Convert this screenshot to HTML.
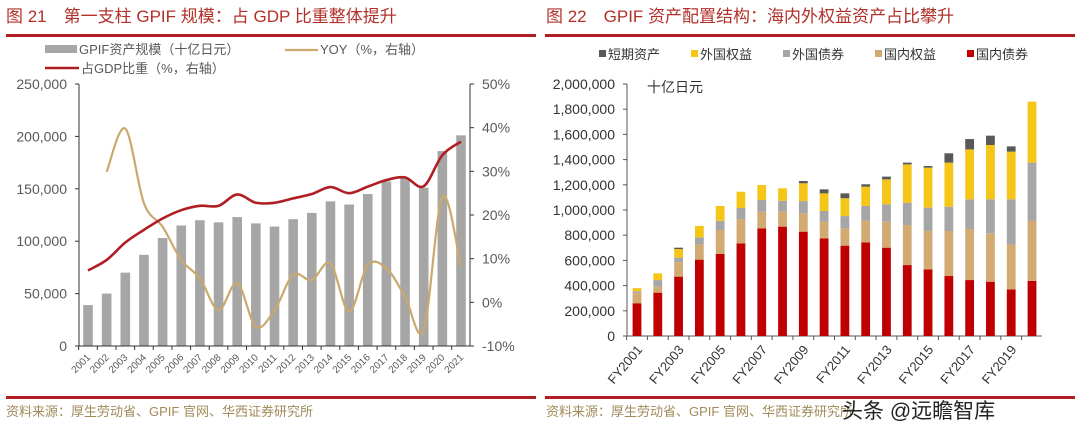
<!DOCTYPE html>
<html><head><meta charset="utf-8">
<style>
body{margin:0;background:#fff;width:1080px;height:436px;overflow:hidden;font-family:"Liberation Sans","Noto Sans CJK SC",sans-serif}
svg{display:block}
</style></head>
<body>
<svg id="s" width="1080" height="436">
<text x="6" y="22" font-size="17" fill="#b2302a" font-family="Liberation Sans,Noto Sans CJK SC,sans-serif">图 21　第一支柱 GPIF 规模：占 GDP 比重整体提升</text>
<text x="546" y="22" font-size="17" fill="#b2302a" font-family="Liberation Sans,Noto Sans CJK SC,sans-serif">图 22　GPIF 资产配置结构：海内外权益资产占比攀升</text>
<rect x="6" y="34" width="530" height="3" fill="#b01e23"/>
<rect x="545" y="34" width="530" height="3" fill="#b01e23"/>
<rect x="6" y="396" width="530" height="3" fill="#b01e23"/>
<rect x="545" y="396" width="530" height="3" fill="#b01e23"/>
<text x="6" y="416" font-size="13" fill="#a08a5a" font-family="Liberation Sans,Noto Sans CJK SC,sans-serif">资料来源：厚生劳动省、GPIF 官网、华西证券研究所</text>
<text x="546" y="416" font-size="13" fill="#a08a5a" font-family="Liberation Sans,Noto Sans CJK SC,sans-serif">资料来源：厚生劳动省、GPIF 官网、华西证券研究所</text>
<text x="842" y="418" font-size="21" fill="#222" font-family="Liberation Sans,Noto Sans CJK SC,sans-serif">头条 @远瞻智库</text>
<g id="L"></g><g id="R"></g>
</svg>
<script>
const years=["2001","2002","2003","2004","2005","2006","2007","2008","2009","2010","2011","2012","2013","2014","2015","2016","2017","2018","2019","2020","2021"];
const assets=[39000,50000,70000,87000,103000,115000,120000,118000,123000,117000,114000,121000,127000,138000,135000,145000,157000,160000,151000,186000,201000];
const gdpShare=[7.3,9.7,13.7,16.6,19.2,21.1,22.1,22.1,24.7,22.8,22.8,23.8,24.8,26.4,25.0,26.5,28.0,28.6,26.6,33.7,36.8];
const yoy=[null,29.9,39.8,22.7,17.3,9.7,5.5,-1.8,4.4,-5.6,-1.8,6.3,5.1,8.9,-2.1,8.5,7.8,1.3,-6.3,24.2,8.2];
const leftTicks=[0,50000,100000,150000,200000,250000];
const rightTicks=[-10,0,10,20,30,40,50];

const fyLabels=["FY2001","FY2002","FY2003","FY2004","FY2005","FY2006","FY2007","FY2008","FY2009","FY2010","FY2011","FY2012","FY2013","FY2014","FY2015","FY2016","FY2017","FY2018","FY2019","FY2020"];
const domBond=[260000,344000,471000,606000,651000,735000,854000,868000,828000,775000,717000,743000,701000,563000,529000,476000,444000,431000,370000,437000];
const domEq=[80000,48000,114000,121000,190000,193000,132000,118000,145000,132000,137000,172000,206000,318000,304000,357000,405000,384000,357000,476000];
const forBond=[15000,52000,37000,56000,74000,88000,93000,88000,98000,85000,98000,117000,138000,177000,186000,193000,236000,270000,358000,463000];
const forEq=[25000,53000,68000,90000,117000,129000,119000,98000,141000,140000,141000,153000,198000,304000,317000,350000,396000,431000,378000,484000];
const shortT=[0,0,11000,0,0,0,0,0,18000,32000,39000,19000,22000,14000,13000,74000,82000,74000,42000,0];
const rTicks=[0,200000,400000,600000,800000,1000000,1200000,1400000,1600000,1800000,2000000];
const seriesNames=["短期资产","外国权益","外国债券","国内权益","国内债券"];

const NS="http://www.w3.org/2000/svg";
function mk(p,t,a,txt){const e=document.createElementNS(NS,t);for(const k in a)e.setAttribute(k,a[k]);if(txt!==undefined)e.textContent=txt;p.appendChild(e);return e;}
const fmt=v=>v.toLocaleString('en-US');
const FF="Liberation Sans,Noto Sans CJK SC,sans-serif";

// LEFT
const L=document.getElementById('L');
const x0=79,x1=470,yT=84,yB=346;
const yL=v=>yB-(v/250000)*(yB-yT);
const yR=v=>yB-((v+10)/60)*(yB-yT);
const step=(461-88)/20;
const xL=i=>88+i*step;
leftTicks.forEach(t=>{const e=mk(L,'text',{x:x0-12,y:yL(t)+5,'font-size':14,fill:'#595959','text-anchor':'end','font-family':FF},fmt(t));
});
rightTicks.forEach(t=>{const e=mk(L,'text',{x:x1+12,y:yR(t)+5,'font-size':14,fill:'#595959','font-family':FF},t+'%');
});
assets.forEach((v,i)=>{const e=mk(L,'rect',{x:xL(i)-4.8,y:yL(v),width:9.6,height:yB-yL(v),fill:'#a6a6a6'});
});
mk(L,'line',{x1:x0,y1:yT,x2:x0,y2:yB,stroke:'#333','stroke-width':1});
mk(L,'line',{x1:x1,y1:yT,x2:x1,y2:yB,stroke:'#333','stroke-width':1});
mk(L,'line',{x1:x0,y1:yB,x2:x1,y2:yB,stroke:'#333','stroke-width':1});
leftTicks.forEach(t=>mk(L,'line',{x1:x0-4,y1:yL(t),x2:x0,y2:yL(t),stroke:'#333'}));
rightTicks.forEach(t=>mk(L,'line',{x1:x1,y1:yR(t),x2:x1+4,y2:yR(t),stroke:'#333'}));
years.forEach((y,i)=>{mk(L,'line',{x1:xL(i)-step/2,y1:yB,x2:xL(i)-step/2,y2:yB+4,stroke:'#333'});
const e=mk(L,'text',{x:xL(i)+3,y:yB+12,'font-size':10,fill:'#595959','text-anchor':'end','font-family':FF,transform:`rotate(-45 ${xL(i)+3} ${yB+12})`},y);
});
function smooth(pts){let d=`M${pts[0][0]},${pts[0][1]}`;for(let i=0;i<pts.length-1;i++){const p0=pts[i-1]||pts[i],p1=pts[i],p2=pts[i+1],p3=pts[i+2]||p2;
d+=` C${p1[0]+(p2[0]-p0[0])/6},${p1[1]+(p2[1]-p0[1])/6} ${p2[0]-(p3[0]-p1[0])/6},${p2[1]-(p3[1]-p1[1])/6} ${p2[0]},${p2[1]}`;}return d;}
const yoyPts=[];yoy.forEach((v,i)=>{if(v!==null)yoyPts.push([xL(i),yR(v)]);});
const yl=mk(L,'path',{d:smooth(yoyPts),fill:'none',stroke:'#c9a96e','stroke-width':2.2});

const gl=mk(L,'path',{d:smooth(gdpShare.map((v,i)=>[xL(i),yR(v)])),fill:'none',stroke:'#b01e23','stroke-width':2.6});

// legend
let g=mk(L,'g',{});
mk(g,'rect',{x:45,y:45,width:32,height:8,fill:'#a6a6a6'});mk(g,'text',{x:79,y:54,'font-size':13,fill:'#595959','font-family':FF},'GPIF资产规模（十亿日元）');
g=mk(L,'g',{});
mk(g,'line',{x1:285,y1:50,x2:318,y2:50,stroke:'#c9a96e','stroke-width':2.2});mk(g,'text',{x:320,y:54,'font-size':13,fill:'#595959','font-family':FF},'YOY（%，右轴）');
g=mk(L,'g',{});
mk(g,'line',{x1:45,y1:68,x2:79,y2:68,stroke:'#b01e23','stroke-width':2.6});mk(g,'text',{x:81,y:73,'font-size':13,fill:'#595959','font-family':FF},'占GDP比重（%，右轴）');

// RIGHT
const R=document.getElementById('R');
const rx0=627,rx1=1042,ryT=84,ryB=336;
const yS=v=>ryB-(v/2000000)*(ryB-ryT);
const rstep=(1032-637)/19;const xR=i=>637+i*rstep;
rTicks.forEach(t=>{const e=mk(R,'text',{x:rx0-12,y:yS(t)+5,'font-size':14,fill:'#333','text-anchor':'end','font-family':FF},fmt(t));

mk(R,'line',{x1:rx0-4,y1:yS(t),x2:rx0,y2:yS(t),stroke:'#555'});});
mk(R,'line',{x1:rx0,y1:ryT,x2:rx0,y2:ryB,stroke:'#555'});
mk(R,'line',{x1:rx0,y1:ryB,x2:rx1,y2:ryB,stroke:'#555'});
const unit=mk(R,'text',{x:647,y:92,'font-size':14,fill:'#333','font-family':FF},'十亿日元');

const stacks=[domBond,domEq,forBond,forEq,shortT];
const cols=['#c00000','#d2aa72','#a6a6a6','#f5c518','#595959'];
const sNames=['domestic-bond','domestic-equity','foreign-bond','foreign-equity','short-term'];
fyLabels.forEach((lab,i)=>{let base=0;stacks.forEach((arr,k)=>{const v=arr[i];if(v>0){
const r=mk(R,'rect',{x:xR(i)-4.4,y:yS(base+v),width:8.8,height:yS(base)-yS(base+v),fill:cols[k]});
}base+=v;});
mk(R,'line',{x1:xR(i)-rstep/2,y1:ryB,x2:xR(i)-rstep/2,y2:ryB+4,stroke:'#555'});
if(i%2===0){const e=mk(R,'text',{x:xR(i)+6,y:ryB+14,'font-size':13,fill:'#333','text-anchor':'end','font-family':FF,transform:`rotate(-50 ${xR(i)+6} ${ryB+14})`},lab);
}});
const legX=[599,691,783,875,967];const legCols=['#595959','#f5c518','#a6a6a6','#d2aa72','#c00000'];
seriesNames.forEach((n,k)=>{const gg=mk(R,'g',{});
mk(gg,'rect',{x:legX[k],y:50,width:7,height:7,fill:legCols[k]});
mk(gg,'text',{x:legX[k]+9,y:59,'font-size':13,fill:'#333','font-family':FF},n);});
</script>
</body></html>
